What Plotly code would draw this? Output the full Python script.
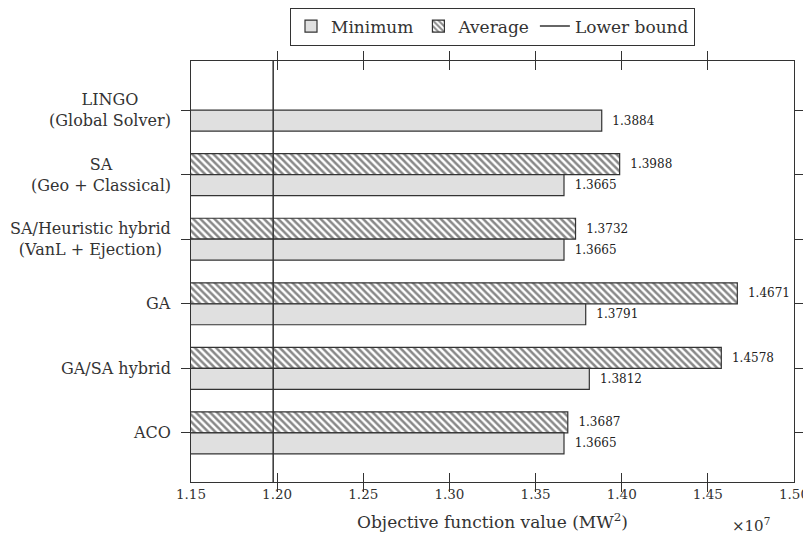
import plotly.graph_objects as go

methods = ["LINGO", "SA", "SA/Heuristic hybrid", "GA", "GA/SA hybrid", "ACO"]
method_labels = ["LINGO<br>(Global Solver)", "SA<br>(Geo + Classical)",
                 "SA/Heuristic hybrid<br>(VanL + Ejection)", "GA", "GA/SA hybrid", "ACO"]
minimum = [1.3884, 1.3665, 1.3665, 1.3791, 1.3812, 1.3665]
average = [None, 1.3988, 1.3732, 1.4671, 1.4578, 1.3687]
lower_bound = 1.1977
x_ticks = [1.15, 1.20, 1.25, 1.30, 1.35, 1.40, 1.45, 1.50]

FONT = "DejaVu Serif"
INK = "#333333"

fig = go.Figure()

fig.add_trace(go.Bar(
    name="Average", y=methods, x=average, orientation="h",
    marker=dict(color="white", line=dict(color=INK, width=1.2),
                pattern=dict(shape="\\", fgcolor="#111111", bgcolor="white",
                             size=5, solidity=0.5)),
    texttemplate="\u00a0\u00a0%{x:.4f}",
    textposition="outside", constraintext="none", cliponaxis=False,
    textfont=dict(family=FONT, size=12, color="#222222"),
    legendrank=2,
))
fig.add_trace(go.Bar(
    name="Minimum", y=methods, x=minimum, orientation="h",
    marker=dict(color="#e0e0e0", line=dict(color=INK, width=1.2)),
    texttemplate="\u00a0\u00a0%{x:.4f}",
    textposition="outside", constraintext="none", cliponaxis=False,
    textfont=dict(family=FONT, size=12, color="#222222"),
    legendrank=1,
))
fig.add_trace(go.Scatter(
    name="Lower bound", x=[lower_bound, lower_bound], y=[0, 1], yaxis="y2",
    mode="lines", line=dict(color=INK, width=1.5), legendrank=3,
))

for m, lab in zip(methods, method_labels):
    fig.add_annotation(x=-0.03, xref="paper", y=m, yref="y", text=lab,
                       showarrow=False, xanchor="right", align="center",
                       font=dict(family=FONT, size=16, color=INK))

fig.add_annotation(x=0.963, xref="paper", y=-0.13, yref="paper",
                   text="×10<sup>7</sup>", showarrow=False,
                   font=dict(family=FONT, size=15, color=INK))

fig.update_layout(
    width=803, height=537,
    margin=dict(l=183, r=17, t=53, b=63, autoexpand=False),
    paper_bgcolor="white", plot_bgcolor="white",
    barmode="group", bargap=0.35, bargroupgap=0,
    font=dict(family=FONT, color=INK),
    legend=dict(orientation="h", x=0.5, xanchor="center", y=1.127, yanchor="top",
                bordercolor=INK, borderwidth=1, bgcolor="white", itemwidth=30,
                font=dict(family=FONT, size=17, color=INK)),
    xaxis=dict(range=[1.15, 1.50], tickvals=x_ticks, tickformat=".2f",
               ticks="inside", ticklen=9, tickcolor=INK, showline=True,
               linecolor=INK, linewidth=1.2, mirror="allticks", showgrid=False,
               zeroline=False, automargin=False,
               tickfont=dict(family=FONT, size=13.5, color=INK),
               title=dict(text="Objective function value (MW<sup>2</sup>)",
                          font=dict(family=FONT, size=17, color=INK), standoff=14)),
    yaxis=dict(range=[5.76, -0.76], ticks="outside", ticklen=9, tickcolor=INK,
               showline=True, linecolor=INK, linewidth=1.2, mirror="allticks",
               showgrid=False, zeroline=False, showticklabels=False, automargin=False),
    yaxis2=dict(overlaying="y", range=[0, 1], visible=False),
)

fig.write_html("out.html")
